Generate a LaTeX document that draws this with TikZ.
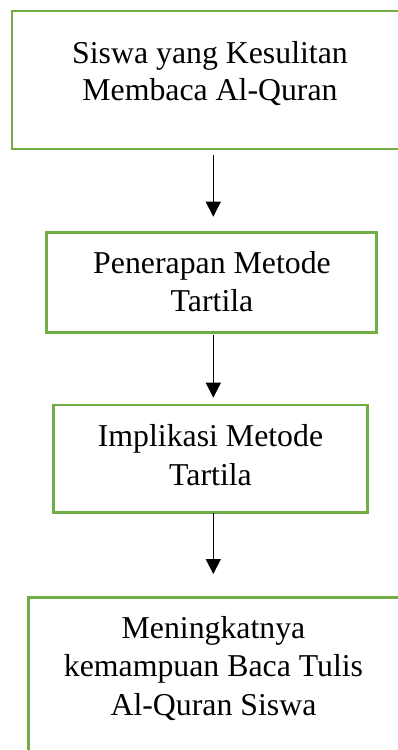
\documentclass[tikz,border=0pt]{standalone}
\usepackage{fontspec}
\setmainfont{Liberation Serif}
\usetikzlibrary{arrows.meta}
\definecolor{boxgreen}{HTML}{70AD47}
\begin{document}
\begin{tikzpicture}[x=1pt,y=-1pt,
  flowbox/.style={draw=boxgreen,line width=2.6pt,rectangle,inner sep=0pt,outer sep=0pt},
  txt/.style={anchor=base,inner sep=0pt,font=\fontsize{31.8}{38}\selectfont},
  arr/.style={line width=1.1pt,-{Triangle[width=15pt,length=15pt]}}]
\useasboundingbox (0,0) rectangle (398,750);
\clip (0,0) rectangle (398,750);
\fill[white] (0,0) rectangle (398,750);
% boxes (centres from corner coordinates)
\node[flowbox,minimum width=393pt,minimum height=138pt] (b1) at (208.5,80) {};
\node[flowbox,minimum width=330pt,minimum height=100.4pt] (b2) at (211.7,282.5) {};
\node[flowbox,minimum width=314.4pt,minimum height=107.3pt] (b3) at (210.5,458.65) {};
\node[flowbox,minimum width=377pt,minimum height=170pt] (b4) at (216.8,682.7) {};
% texts
\node[txt] (t1a) at (210,63.3) {Siswa yang Kesulitan};
\node[txt] (t1b) at (210,100) {Membaca Al-Quran};
\node[txt] (t2a) at (212,273.3) {Penerapan Metode};
\node[txt] (t2b) at (212,311.7) {Tartila};
\node[txt] (t3a) at (210.5,446.7) {Implikasi Metode};
\node[txt] (t3b) at (210.5,485) {Tartila};
\node[txt] (t4a) at (213.5,638) {Meningkatnya};
\node[txt] (t4b) at (213.5,676.7) {kemampuan Baca Tulis};
\node[txt] (t4c) at (213.5,715) {Al-Quran Siswa};
% arrows
\coordinate (ax) at (213.3,0);
\draw[arr,shorten <=6pt,shorten >=15.6pt] (b1.south -| ax) -- (b2.north -| ax);
\draw[arr,shorten <=2.3pt,shorten >=7.3pt] (b2.south -| ax) -- (b3.north -| ax);
\draw[arr,shorten <=0.7pt,shorten >=23.7pt] (b3.south -| ax) -- (b4.north -| ax);
\end{tikzpicture}
\end{document}
